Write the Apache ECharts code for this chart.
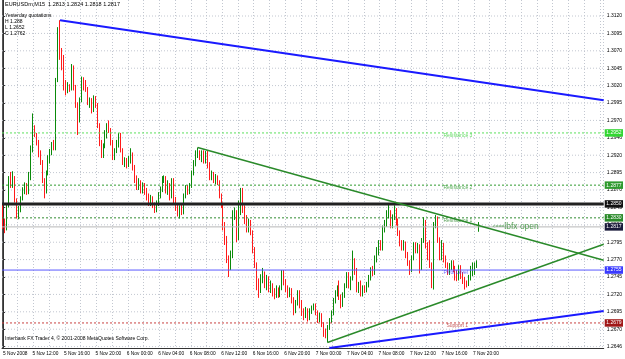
<!DOCTYPE html>
<html><head><meta charset="utf-8">
<script src="https://cdn.jsdelivr.net/npm/echarts@6/dist/echarts.min.js"></script>
<style>html,body{margin:0;padding:0;background:#fff}#c{width:625px;height:359px}</style>
</head><body><div id="c"></div>
<script>
// ---------------- DATA ----------------
const symbolTitle = 'EURUSDm,M15  1.2813 1.2824 1.2818 1.2817';
const yesterdayLines = ['Yesterday quotations', 'H 1.288', 'L 1.2652', 'C 1.2762'];
const copyrightText = 'Interbank FX Trader 4, \u00a9 2001-2008 MetaQuotes Software Corp.';

const xTickLabels = ['5 Nov 2008','5 Nov 12:00','5 Nov 16:00','5 Nov 20:00','6 Nov 00:00','6 Nov 04:00',
  '6 Nov 08:00','6 Nov 12:00','6 Nov 16:00','6 Nov 20:00','7 Nov 00:00','7 Nov 04:00','7 Nov 08:00',
  '7 Nov 12:00','7 Nov 16:00','7 Nov 20:00'];

const priceTicks = [1.3120,1.3095,1.3070,1.3045,1.3020,1.2995,1.2970,1.2945,1.2920,1.2895,1.2870,1.2845,
  1.2820,1.2795,1.2770,1.2745,1.2720,1.2695,1.2670,1.2645];
const priceTickLabels = ['1.3120','1.3095','1.3070','1.3045','1.3020','1.2995','1.2970','1.2946','1.2920',
  '1.2895','1.2870','1.2845','1.2820','1.2795','1.2770','1.2745','1.2720','1.2695','1.2670','1.2646'];

const open = [
1.2845,1.2824,1.2815,1.2848,1.2884,1.2875,1.2887,1.2855,1.2834,1.2841,
1.2858,1.2870,1.2877,1.2867,1.2887,1.2927,1.2960,1.2949,1.2939,1.2920,
1.2910,1.2884,1.2867,1.2896,1.2913,1.2924,1.2934,1.2930,1.3028,1.3085,
1.3068,1.3048,1.3021,1.3013,1.3018,1.3015,1.3046,1.3018,1.2992,1.2970,
1.2999,1.3028,1.3021,1.3013,1.2995,1.2999,1.2985,1.3002,1.2992,1.2963,
1.2937,1.2920,1.2934,1.2949,1.2962,1.2956,1.2939,1.2917,1.2927,1.2934,
1.2946,1.2927,1.2908,1.2913,1.2906,1.2913,1.2920,1.2901,1.2884,1.2874,
1.2881,1.2870,1.2877,1.2865,1.2860,1.2851,1.2858,1.2848,1.2841,1.2851,
1.2863,1.2870,1.2884,1.2887,1.2870,1.2877,1.2865,1.2884,1.2855,1.2844,
1.2837,1.2844,1.2838,1.2863,1.2873,1.2867,1.2875,1.2894,1.2908,1.2920,
1.2923,1.2916,1.2924,1.2913,1.2923,1.2906,1.2888,1.2891,1.2884,1.2888,
1.2880,1.2863,1.2848,1.2819,1.2798,1.2772,1.2762,1.2776,1.2834,1.2838,
1.2801,1.2841,1.2855,1.2841,1.2827,1.2815,1.2824,1.2809,1.2783,1.2762,
1.2736,1.2726,1.2743,1.2750,1.2733,1.2743,1.2726,1.2733,1.2722,1.2717,
1.2726,1.2719,1.2729,1.2752,1.2738,1.2729,1.2719,1.2726,1.2712,1.2697,
1.2707,1.2719,1.2704,1.2693,1.2689,1.2697,1.2686,1.2694,1.2702,1.2704,
1.2694,1.2683,1.2690,1.2676,1.2666,1.2661,1.2673,1.2683,1.2694,1.2712,
1.2722,1.2729,1.2716,1.2704,1.2719,1.2733,1.2748,1.2733,1.2743,1.2766,
1.2752,1.2726,1.2733,1.2722,1.2729,1.2726,1.2735,1.2743,1.2755,1.2750,
1.2772,1.2783,1.2794,1.2786,1.2815,1.2822,1.2834,1.2838,1.2819,1.2831,
1.2841,1.2824,1.2808,1.2794,1.2788,1.2794,1.2776,1.2765,1.2755,1.2773,
1.2791,1.2783,1.2789,1.2758,1.2798,1.2824,1.2791,1.2773,1.2762,1.2730,
1.2819,1.2824,1.2798,1.2773,1.2791,1.2772,1.2761,1.2752,1.2761,1.2765,
1.2755,1.2748,1.2745,1.2758,1.2746,1.2740,1.2736,1.2735,1.2743,1.2752,
1.2752,1.2761,1.2813];
const high = [
1.2850,1.2829,1.2851,1.2890,1.2896,1.2897,1.2890,1.2858,1.2847,1.2861,
1.2874,1.2881,1.2880,1.2896,1.2934,1.2980,1.2963,1.2952,1.2942,1.2927,
1.2913,1.2887,1.2898,1.2920,1.2929,1.2939,1.2942,1.3031,1.3104,1.3114,
1.3074,1.3064,1.3028,1.3025,1.3022,1.3051,1.3049,1.3021,1.2996,1.3003,
1.3033,1.3032,1.3028,1.3018,1.3003,1.3002,1.3006,1.3005,1.2995,1.2966,
1.2942,1.2937,1.2956,1.2966,1.2970,1.2959,1.2942,1.2930,1.2942,1.2952,
1.2952,1.2930,1.2917,1.2916,1.2919,1.2930,1.2924,1.2906,1.2891,1.2887,
1.2884,1.2881,1.2880,1.2873,1.2865,1.2863,1.2861,1.2852,1.2855,1.2867,
1.2875,1.2890,1.2891,1.2890,1.2884,1.2880,1.2887,1.2887,1.2860,1.2850,
1.2848,1.2851,1.2865,1.2877,1.2877,1.2880,1.2898,1.2913,1.2927,1.2931,
1.2927,1.2927,1.2927,1.2926,1.2926,1.2910,1.2898,1.2896,1.2893,1.2891,
1.2884,1.2865,1.2852,1.2824,1.2804,1.2776,1.2783,1.2841,1.2845,1.2841,
1.2855,1.2873,1.2873,1.2848,1.2834,1.2829,1.2827,1.2812,1.2788,1.2766,
1.2743,1.2749,1.2758,1.2753,1.2748,1.2746,1.2740,1.2736,1.2729,1.2733,
1.2730,1.2733,1.2755,1.2755,1.2742,1.2733,1.2730,1.2729,1.2716,1.2712,
1.2726,1.2726,1.2712,1.2700,1.2702,1.2700,1.2700,1.2704,1.2707,1.2707,
1.2697,1.2694,1.2693,1.2680,1.2671,1.2676,1.2686,1.2697,1.2715,1.2726,
1.2733,1.2740,1.2720,1.2723,1.2736,1.2752,1.2752,1.2746,1.2783,1.2772,
1.2758,1.2738,1.2740,1.2733,1.2733,1.2738,1.2748,1.2759,1.2761,1.2776,
1.2788,1.2798,1.2798,1.2819,1.2827,1.2841,1.2851,1.2841,1.2835,1.2848,
1.2844,1.2829,1.2812,1.2798,1.2798,1.2796,1.2781,1.2769,1.2776,1.2795,
1.2795,1.2794,1.2792,1.2801,1.2831,1.2827,1.2795,1.2798,1.2766,1.2824,
1.2834,1.2832,1.2802,1.2798,1.2794,1.2776,1.2766,1.2765,1.2769,1.2769,
1.2761,1.2755,1.2762,1.2762,1.2752,1.2745,1.2740,1.2748,1.2761,1.2766,
1.2766,1.2769,1.2824];
const low = [
1.2814,1.2808,1.2812,1.2845,1.2873,1.2873,1.2852,1.2829,1.2828,1.2838,
1.2855,1.2864,1.2863,1.2864,1.2884,1.2924,1.2946,1.2934,1.2917,1.2906,
1.2880,1.2858,1.2865,1.2891,1.2908,1.2920,1.2927,1.2927,1.3025,1.3057,
1.3042,1.3013,1.3006,1.3009,1.3011,1.3013,1.3013,1.2988,1.2949,1.2967,
1.2996,1.3013,1.3011,1.2992,1.2988,1.2980,1.2982,1.2988,1.2959,1.2933,
1.2916,1.2916,1.2930,1.2944,1.2952,1.2934,1.2913,1.2913,1.2923,1.2931,
1.2924,1.2906,1.2903,1.2901,1.2903,1.2908,1.2898,1.2880,1.2870,1.2870,
1.2865,1.2865,1.2863,1.2855,1.2847,1.2847,1.2844,1.2837,1.2838,1.2847,
1.2858,1.2867,1.2880,1.2865,1.2863,1.2855,1.2858,1.2851,1.2840,1.2832,
1.2829,1.2834,1.2835,1.2858,1.2863,1.2864,1.2873,1.2891,1.2904,1.2916,
1.2913,1.2910,1.2908,1.2908,1.2901,1.2884,1.2884,1.2880,1.2878,1.2877,
1.2858,1.2844,1.2812,1.2791,1.2765,1.2745,1.2755,1.2772,1.2827,1.2795,
1.2798,1.2834,1.2837,1.2821,1.2809,1.2809,1.2805,1.2779,1.2758,1.2726,
1.2715,1.2722,1.2736,1.2729,1.2726,1.2723,1.2722,1.2717,1.2713,1.2715,
1.2715,1.2716,1.2726,1.2733,1.2723,1.2715,1.2716,1.2707,1.2690,1.2693,
1.2704,1.2700,1.2689,1.2683,1.2686,1.2681,1.2683,1.2692,1.2697,1.2690,
1.2679,1.2680,1.2673,1.2659,1.2657,1.2651,1.2669,1.2679,1.2690,1.2707,
1.2717,1.2712,1.2700,1.2702,1.2715,1.2729,1.2729,1.2726,1.2740,1.2748,
1.2723,1.2722,1.2717,1.2717,1.2722,1.2723,1.2730,1.2740,1.2746,1.2748,
1.2766,1.2776,1.2783,1.2783,1.2809,1.2817,1.2829,1.2815,1.2815,1.2827,
1.2819,1.2804,1.2789,1.2783,1.2783,1.2772,1.2761,1.2748,1.2752,1.2769,
1.2779,1.2779,1.2750,1.2755,1.2794,1.2786,1.2769,1.2758,1.2729,1.2727,
1.2815,1.2794,1.2769,1.2769,1.2766,1.2758,1.2748,1.2748,1.2755,1.2752,
1.2740,1.2739,1.2740,1.2742,1.2735,1.2727,1.2730,1.2732,1.2740,1.2746,
1.2748,1.2758,1.2810];
const close = [
1.2824,1.2815,1.2848,1.2884,1.2875,1.2887,1.2855,1.2834,1.2841,1.2858,
1.2870,1.2877,1.2867,1.2887,1.2927,1.2960,1.2949,1.2939,1.2920,1.2910,
1.2884,1.2867,1.2896,1.2913,1.2924,1.2934,1.2930,1.3028,1.3085,1.3068,
1.3048,1.3021,1.3013,1.3018,1.3015,1.3046,1.3018,1.2992,1.2970,1.2999,
1.3028,1.3021,1.3013,1.2995,1.2999,1.2985,1.3002,1.2992,1.2963,1.2937,
1.2920,1.2934,1.2949,1.2962,1.2956,1.2939,1.2917,1.2927,1.2934,1.2946,
1.2927,1.2908,1.2913,1.2906,1.2913,1.2920,1.2901,1.2884,1.2874,1.2881,
1.2870,1.2877,1.2865,1.2860,1.2851,1.2858,1.2848,1.2841,1.2851,1.2863,
1.2870,1.2884,1.2887,1.2870,1.2877,1.2865,1.2884,1.2855,1.2844,1.2837,
1.2844,1.2838,1.2863,1.2873,1.2867,1.2875,1.2894,1.2908,1.2920,1.2923,
1.2916,1.2924,1.2913,1.2923,1.2906,1.2888,1.2891,1.2884,1.2888,1.2880,
1.2863,1.2848,1.2819,1.2798,1.2772,1.2762,1.2776,1.2834,1.2838,1.2801,
1.2841,1.2855,1.2841,1.2827,1.2815,1.2824,1.2809,1.2783,1.2762,1.2736,
1.2726,1.2743,1.2750,1.2733,1.2743,1.2726,1.2733,1.2722,1.2717,1.2726,
1.2719,1.2729,1.2752,1.2738,1.2729,1.2719,1.2726,1.2712,1.2697,1.2707,
1.2719,1.2704,1.2693,1.2689,1.2697,1.2686,1.2694,1.2702,1.2704,1.2694,
1.2683,1.2690,1.2676,1.2666,1.2661,1.2673,1.2683,1.2694,1.2712,1.2722,
1.2729,1.2716,1.2704,1.2719,1.2733,1.2748,1.2733,1.2743,1.2766,1.2752,
1.2726,1.2733,1.2722,1.2729,1.2726,1.2735,1.2743,1.2755,1.2750,1.2772,
1.2783,1.2794,1.2786,1.2815,1.2822,1.2834,1.2838,1.2819,1.2831,1.2841,
1.2824,1.2808,1.2794,1.2788,1.2794,1.2776,1.2765,1.2755,1.2773,1.2791,
1.2783,1.2789,1.2758,1.2798,1.2824,1.2791,1.2773,1.2762,1.2733,1.2819,
1.2824,1.2798,1.2773,1.2791,1.2772,1.2761,1.2752,1.2761,1.2765,1.2755,
1.2748,1.2745,1.2758,1.2746,1.2740,1.2736,1.2735,1.2743,1.2752,1.2755,
1.2761,1.2766,1.2817];

// horizontal levels (price) and their note texts
const levelValues = [1.2952, 1.2877, 1.2850, 1.2830, 1.2817, 1.2755, 1.2679];
const levelNotes  = ['Resistance 3', 'Resistance 2', '', 'Resistance 1', '', 'Pivot Level', 'Support 1'];

// trend lines: [bar index, price] anchors (ray to the right edge)
const trendBlueTop    = [[29, 1.3114], [305.5, 1.2999]];
const trendGreenUpper = [[99, 1.2931], [305.5, 1.2769]];
const trendGreenLower = [[165, 1.2651], [305.5, 1.2792]];
const trendBlueBottom = [[166, 1.2643], [305.5, 1.2696]];

const lbfxNote = {bar: 249, price: 1.2817, text: 'lbfx open'};

// ---------------- STYLE / LAYOUT ----------------
const FONT = 'Liberation Sans';
const N_SLOTS = 306;
const NOTE_BAR = 224;
const GRID_COLOR = '#c2c7d0';
const levelStyles = [
  {line: '#5be05b', type: [2, 2], width: 1, box: '#33d633', text: '#3fcf3f'},
  {line: '#2f9a2f', type: [2, 2], width: 1, box: '#2e9a2e', text: '#2f9a2f'},
  {line: '#222222', type: 'solid', width: 3, box: '#111111', text: '#000'},
  {line: '#2f8a2f', type: [2, 2], width: 1, box: '#2a8a2a', text: '#2f8a2f'},
  {line: '#b8b8b8', type: 'solid', width: 1, box: '#1a1a3a', text: '#000'},
  {line: '#5a5aff', type: 'solid', width: 1, box: '#3a3aff', text: '#4040ff'},
  {line: '#c84040', type: [2, 2], width: 1, box: '#a01818', text: '#b83030'}
];

// categories = bar times (M15) starting 5 Nov 2008 08:15
const pad = n => (n < 10 ? '0' : '') + n;
const t0 = Date.UTC(2008, 10, 5, 8, 15);
const categories = [];
for (let i = 0; i < N_SLOTS; i++) {
  const d = new Date(t0 + i * 900000);
  categories.push(d.getUTCDate() + ' Nov ' + pad(d.getUTCHours()) + ':' + pad(d.getUTCMinutes()));
}
const showLabel = (i) => i < open.length && (i === 0 || xTickLabels.indexOf(categories[i]) >= 0);

const candleData = open.map((o, i) => [o, close[i], low[i], high[i]]);
const X0 = -0.5, X1 = N_SLOTS - 0.5;

const chart = echarts.init(document.getElementById('c'), null, {renderer: 'canvas'});
const trend = (data, color, width) => ({
  type: 'line', xAxisIndex: 1, yAxisIndex: 0, data: data, symbol: 'none', silent: true,
  clip: true, z: 4, lineStyle: {color: color, width: width}, animation: false
});

const series = [];
// horizontal grid lines
priceTicks.forEach(v => series.push({
  type: 'line', xAxisIndex: 1, yAxisIndex: 0, data: [[X0, v], [X1, v]], symbol: 'none', silent: true, z: 1,
  lineStyle: {color: GRID_COLOR, type: [1, 2], width: 1}, animation: false
}));
// level lines with price boxes
levelValues.forEach((v, k) => series.push({
  type: 'line', xAxisIndex: 1, yAxisIndex: 0, data: [[X0, v], [X1, v]], symbol: 'none', silent: true, z: 3,
  lineStyle: {color: levelStyles[k].line, type: levelStyles[k].type, width: levelStyles[k].width},
  endLabel: {show: true, distance: 1, formatter: () => v.toFixed(4), color: '#fff',
    backgroundColor: levelStyles[k].box, padding: [1.5, 1.5, 1, 1.5], fontSize: 5, fontFamily: FONT},
  animation: false
}));
// candles
series.push({type: 'candlestick', xAxisIndex: 0, yAxisIndex: 0, data: candleData, barWidth: 1, z: 2,
  itemStyle: {color: '#0a8a0a', color0: '#ff1a1a', borderColor: '#0a8a0a', borderColor0: '#ff1a1a', borderWidth: 1}});
series.push(trend(trendBlueTop, '#1a1aff', 2));
series.push(trend(trendGreenUpper, '#2a8a2a', 1.5));
series.push(trend(trendGreenLower, '#2a8a2a', 1.5));
series.push(trend(trendBlueBottom, '#1a1aff', 2));
// level notes
series.push({type: 'scatter', xAxisIndex: 1, yAxisIndex: 0, symbolSize: 0, z: 5, silent: true,
  data: levelValues.map((v, k) => ({value: [NOTE_BAR + (k === 6 ? 1.5 : 0), v], name: levelNotes[k],
    label: {show: levelNotes[k] !== '', position: [0, 0], align: 'left', verticalAlign: 'top',
      formatter: '{b}', color: levelStyles[k].text, fontSize: 5, fontFamily: FONT}}))});
// lbfx open note
series.push({type: 'scatter', xAxisIndex: 1, yAxisIndex: 0, symbolSize: 0, z: 5, silent: true,
  data: [{value: [lbfxNote.bar, lbfxNote.price], name: lbfxNote.text,
    label: {show: true, position: [0, 0], align: 'left', verticalAlign: 'middle',
      formatter: '{a|<===}{b|' + lbfxNote.text + '}',
      rich: {a: {fontSize: 5, color: '#2e8b2e', fontFamily: FONT},
             b: {fontSize: 8.5, color: '#2e8b2e', fontFamily: FONT}}}}]});

chart.setOption({
  animation: false,
  backgroundColor: '#ffffff',
  textStyle: {fontFamily: FONT},
  title: [
    {text: symbolTitle, left: 5, top: 1, padding: 0,
      textStyle: {fontSize: 5.5, fontWeight: 'normal', color: '#000', fontFamily: FONT}},
    {text: yesterdayLines.join('\n'), left: 5, top: 12, padding: 0,
      textStyle: {fontSize: 5, lineHeight: 6.3, fontWeight: 'normal', color: '#000', fontFamily: FONT}},
    {text: copyrightText, left: 5, top: 336, padding: 0,
      textStyle: {fontSize: 5, fontWeight: 'normal', color: '#000', fontFamily: FONT}}
  ],
  grid: {left: 2, right: 19, top: 0, bottom: 11, containLabel: false},
  xAxis: [
    {type: 'category', data: categories, boundaryGap: true,
      axisLine: {show: true, lineStyle: {color: '#333', width: 1}},
      axisTick: {show: false},
      axisLabel: {interval: (i) => showLabel(i), formatter: (v, i) => (i === 0 ? xTickLabels[0] : v),
        align: 'left', margin: 3, fontSize: 4.8, color: '#000', fontFamily: FONT},
      splitLine: {show: false}},
    {type: 'value', min: X0, max: X1, interval: 8, position: 'bottom',
      axisLine: {show: false}, axisTick: {show: false}, axisLabel: {show: false},
      splitLine: {show: true, lineStyle: {color: GRID_COLOR, type: [1, 2], width: 1}}}
  ],
  yAxis: [
    {type: 'value', position: 'right', min: 1.2643, max: 1.3143, scale: true,
      axisLine: {show: true, lineStyle: {color: '#333', width: 1}},
      axisTick: {show: true, length: 2, customValues: priceTicks, lineStyle: {color: '#333'}},
      axisLabel: {customValues: priceTicks, margin: 3, fontSize: 5, color: '#000', fontFamily: FONT,
        formatter: (v) => {
          for (let k = 0; k < priceTicks.length; k++) if (Math.abs(priceTicks[k] - v) < 1e-6) return priceTickLabels[k];
          return '';
        }},
      splitLine: {show: false}},
    {type: 'value', position: 'left', min: 1.2643, max: 1.3143,
      axisLine: {show: true, lineStyle: {color: '#555', width: 1}},
      axisTick: {show: false}, axisLabel: {show: false}, splitLine: {show: false}}
  ],
  series: series
});
</script>
</body></html>
